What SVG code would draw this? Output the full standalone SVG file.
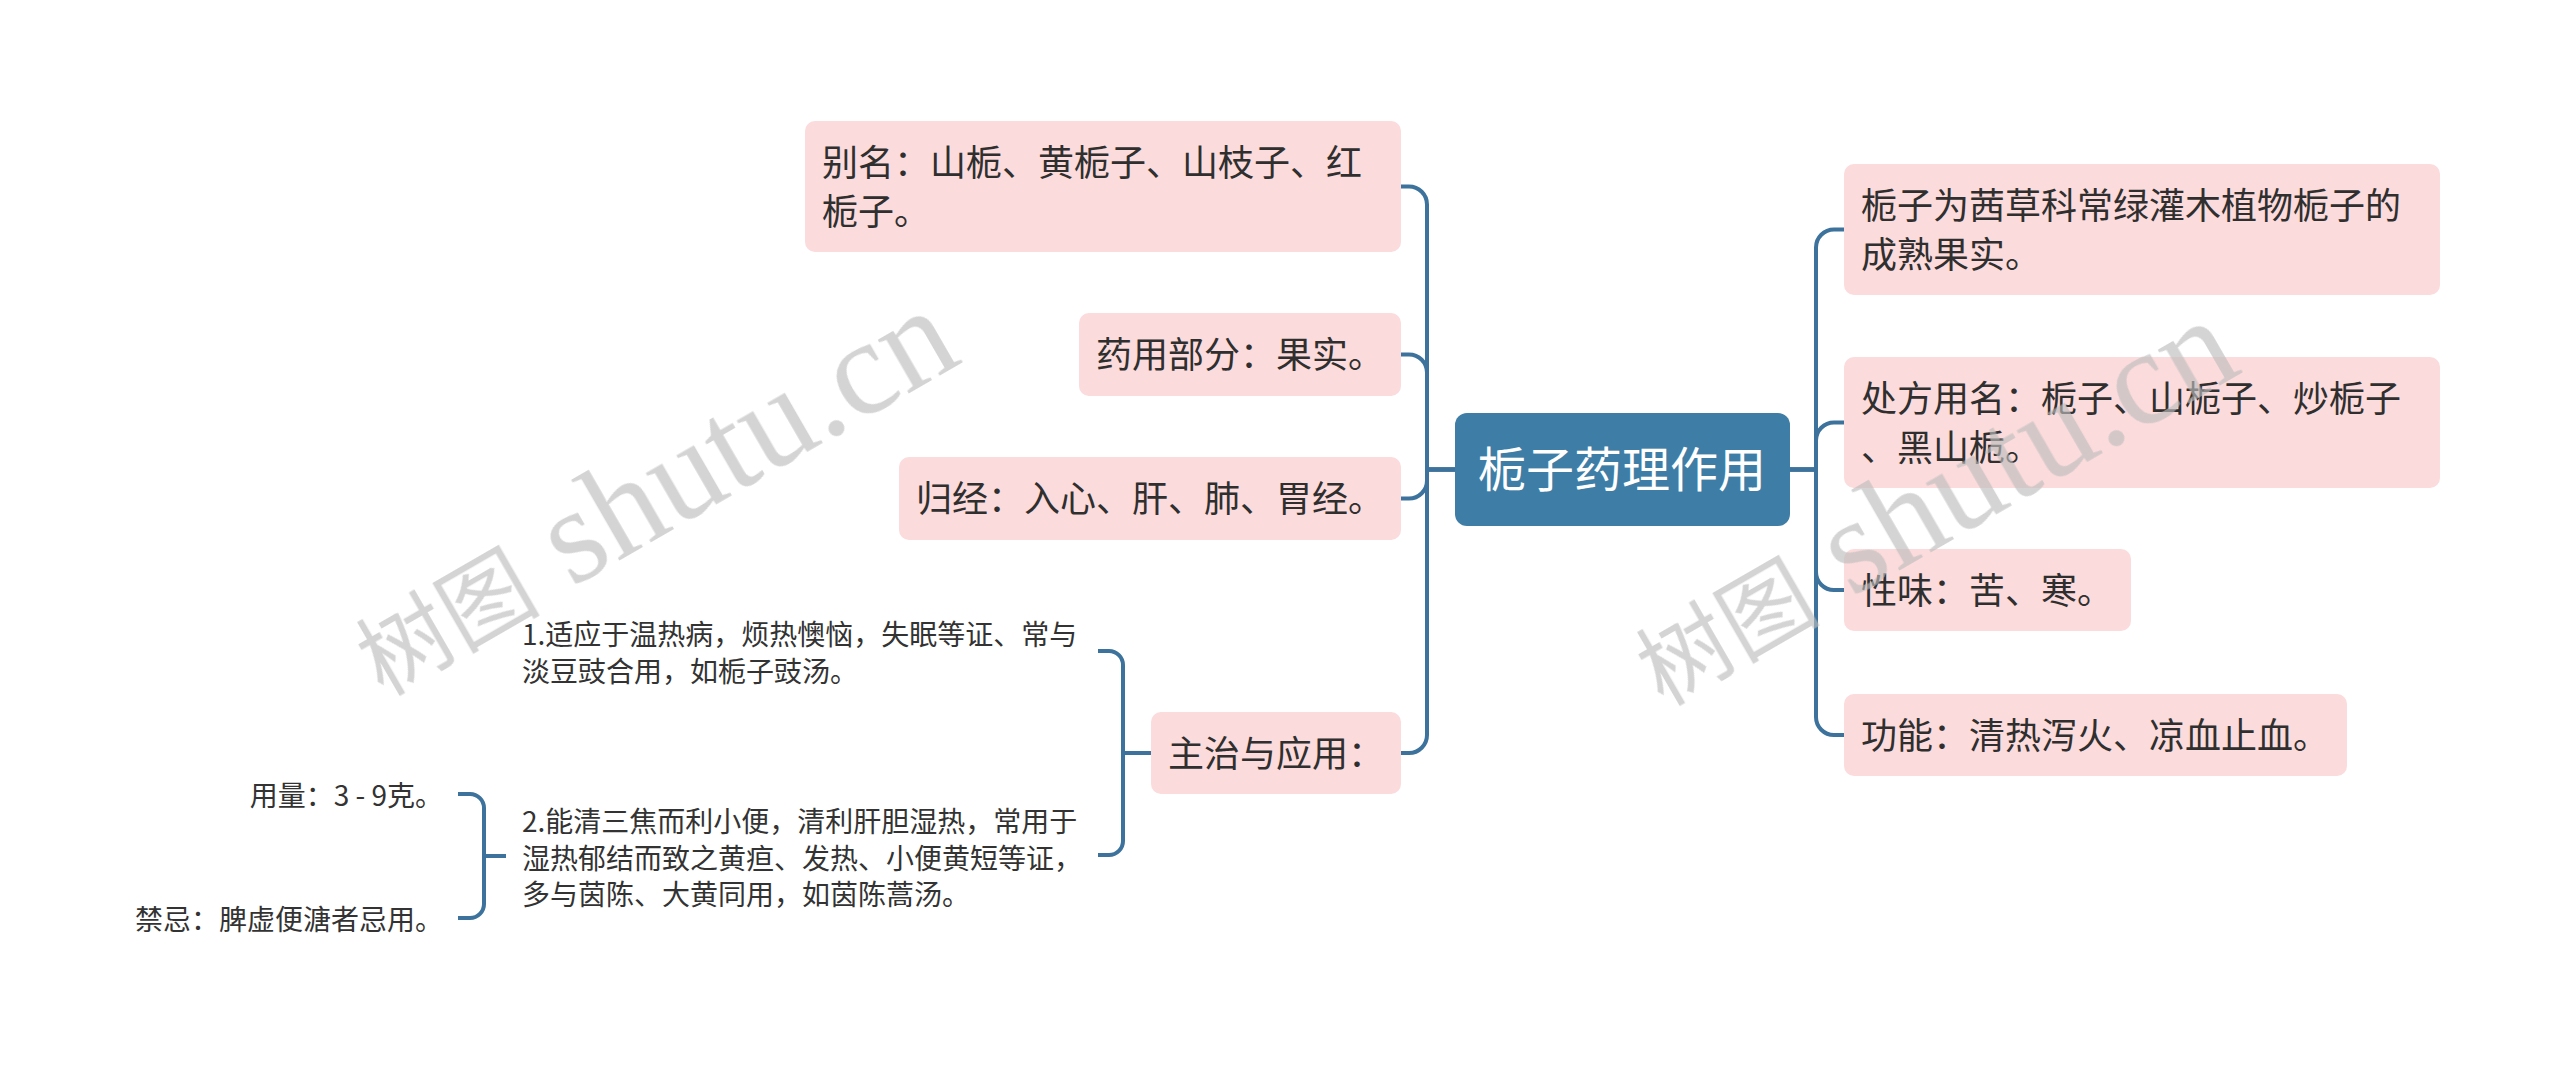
<svg xmlns="http://www.w3.org/2000/svg" width="2560" height="1070" viewBox="0 0 2560 1070">
<style>
.box{fill:#FBDBDB;}
.root{fill:#3E7DA5;}
.t{font-family:"Noto Sans CJK SC","Noto Sans",sans-serif;font-size:36px;fill:#2f2f2f;}
.rt{font-family:"Noto Sans CJK SC","Noto Sans",sans-serif;font-size:48px;fill:#ffffff;}
.lf{font-family:"Noto Sans CJK SC","Noto Sans",sans-serif;font-size:28px;fill:#333333;}
.c{fill:none;stroke:#3C729B;stroke-width:4;stroke-linecap:butt;}
.wm{fill:#bdbdbd;opacity:0.65;}
.wmc{font-family:"Noto Sans CJK SC",sans-serif;font-size:92px;}
.wml{font-family:"Liberation Serif","DejaVu Serif",serif;font-size:135px;}
</style>
<rect width="2560" height="1070" fill="#ffffff"/>
<g id="connectors">
<path class="c" d="M1455,469.5 H1427 V204.5 A18,18 0 0 0 1409,186.5 H1401"/>
<path class="c" d="M1455,469.5 H1427 V372.5 A18,18 0 0 0 1409,354.5 H1401"/>
<path class="c" d="M1455,469.5 H1427 V480.5 A18,18 0 0 1 1409,498.5 H1401"/>
<path class="c" d="M1455,469.5 H1427 V735 A18,18 0 0 1 1409,753 H1401"/>
<path class="c" d="M1790,469.5 H1816 V247.5 A18,18 0 0 1 1834,229.5 H1844"/>
<path class="c" d="M1790,469.5 H1816 V440.5 A18,18 0 0 1 1834,422.5 H1844"/>
<path class="c" d="M1790,469.5 H1816 V572 A18,18 0 0 0 1834,590 H1844"/>
<path class="c" d="M1790,469.5 H1816 V717 A18,18 0 0 0 1834,735 H1844"/>
<path class="c" d="M1151,753 H1123 V665 A14,14 0 0 0 1109,651 H1098"/>
<path class="c" d="M1151,753 H1123 V841 A14,14 0 0 1 1109,855 H1098"/>
<path class="c" d="M506,856 H484 V808 A14,14 0 0 0 470,794 H458"/>
<path class="c" d="M506,856 H484 V904 A14,14 0 0 1 470,918 H458"/>
</g>
<g id="root">
<rect class="root" x="1455" y="413" width="335" height="113" rx="12"/>
<text class="rt" x="1622" y="487" text-anchor="middle">栀子药理作用</text>
</g>
<g id="n-bieming">
<rect class="box" x="805" y="121" width="596" height="131" rx="10"/>
<text class="t" x="822" y="176">别名：山栀、黄栀子、山枝子、红</text>
<text class="t" x="822" y="224.5">栀子。</text>
</g>
<g id="n-yaoyong">
<rect class="box" x="1079" y="313" width="322" height="83" rx="10"/>
<text class="t" x="1096" y="368">药用部分：果实。</text>
</g>
<g id="n-guijing">
<rect class="box" x="899" y="457" width="502" height="83" rx="10"/>
<text class="t" x="916" y="512">归经：入心、肝、肺、胃经。</text>
</g>
<g id="n-zhuzhi">
<rect class="box" x="1151" y="712" width="250" height="82" rx="10"/>
<text class="t" x="1168" y="767">主治与应用：</text>
</g>
<g id="n-leaf1">
<text class="lf" x="522" y="645">1.适应于温热病，烦热懊恼，失眠等证、常与</text>
<text class="lf" x="522" y="681.5">淡豆豉合用，如栀子豉汤。</text>
</g>
<g id="n-leaf2">
<text class="lf" x="522" y="832">2.能清三焦而利小便，清利肝胆湿热，常用于</text>
<text class="lf" x="522" y="868.5">湿热郁结而致之黄疸、发热、小便黄短等证，</text>
<text class="lf" x="522" y="905">多与茵陈、大黄同用，如茵陈蒿汤。</text>
</g>
<g id="n-yongliang">
<text class="lf" x="443" y="806" text-anchor="end">用量：3 - 9克。</text>
</g>
<g id="n-jinji">
<text class="lf" x="443" y="930" text-anchor="end">禁忌：脾虚便溏者忌用。</text>
</g>
<g id="n-laiyuan">
<rect class="box" x="1844" y="164" width="596" height="131" rx="10"/>
<text class="t" x="1861" y="219">栀子为茜草科常绿灌木植物栀子的</text>
<text class="t" x="1861" y="267.5">成熟果实。</text>
</g>
<g id="n-chufang">
<rect class="box" x="1844" y="357" width="596" height="131" rx="10"/>
<text class="t" x="1861" y="412">处方用名：栀子、山栀子、炒栀子</text>
<text class="t" x="1861" y="460.5">、黑山栀。</text>
</g>
<g id="n-xingwei">
<rect class="box" x="1844" y="549" width="287" height="82" rx="10"/>
<text class="t" x="1861" y="604">性味：苦、寒。</text>
</g>
<g id="n-gongneng">
<rect class="box" x="1844" y="694" width="503" height="82" rx="10"/>
<text class="t" x="1861" y="749">功能：清热泻火、凉血止血。</text>
</g>
<g id="watermark" class="wm">
<text transform="translate(383,697) rotate(-30)"><tspan class="wmc">树图</tspan><tspan class="wml"> shutu.cn</tspan></text>
<text transform="translate(1663,707) rotate(-30)"><tspan class="wmc">树图</tspan><tspan class="wml"> shutu.cn</tspan></text>
</g>
</svg>
